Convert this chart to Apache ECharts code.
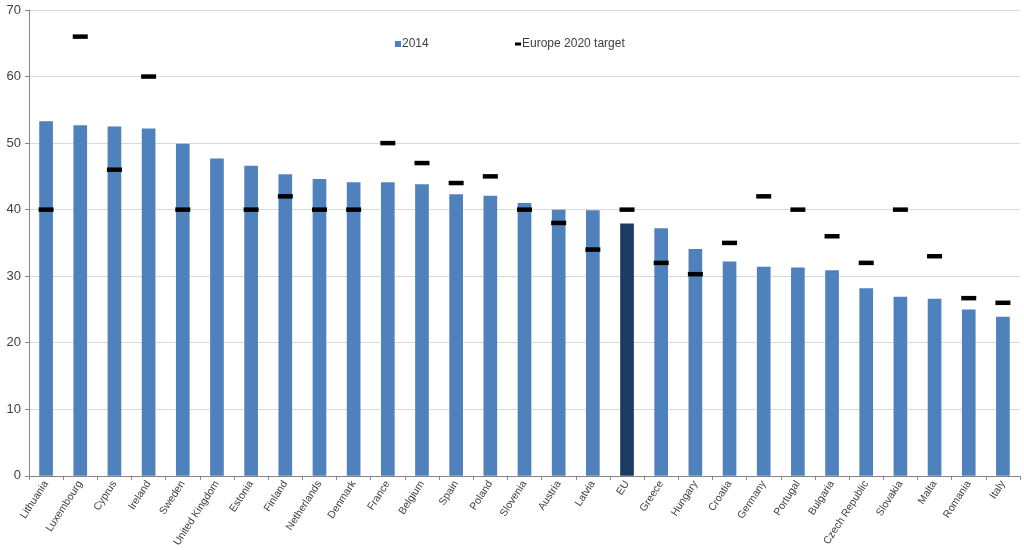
<!DOCTYPE html>
<html>
<head>
<meta charset="utf-8">
<script src="https://cdn.jsdelivr.net/npm/echarts@6/dist/echarts.min.js"></script>
<style>
  html, body { margin: 0; padding: 0; background: #fff; }
  .chart { width: 1024px; height: 550px; }
</style>
</head>
<body>
<div class="chart"></div>
<script>
// 国家
var countries = ["Lithuania", "Luxembourg", "Cyprus", "Ireland", "Sweden", "United Kingdom",
  "Estonia", "Finland", "Netherlands", "Denmark", "France", "Belgium", "Spain", "Poland",
  "Slovenia", "Austria", "Latvia", "EU", "Greece", "Hungary", "Croatia", "Germany",
  "Portugal", "Bulgaria", "Czech Republic", "Slovakia", "Malta", "Romania", "Italy"];
// 2014 数值
var values2014 = [53.3, 52.7, 52.5, 52.2, 49.9, 47.7, 46.6, 45.3, 44.6, 44.1, 44.1, 43.8,
  42.3, 42.1, 41.0, 40.0, 39.9, 37.9, 37.2, 34.1, 32.2, 31.4, 31.3, 30.9, 28.2, 26.9,
  26.6, 25.0, 23.9];
// Europe 2020 目标 (英国没有)
var targets = [40, 66, 46, 60, 40, null, 40, 42, 40, 40, 50, 47, 44, 45, 40, 38, 34, 40,
  32, 30.3, 35, 42, 40, 36, 32, 40, 33, 26.7, 26];
var yTicks = [0, 10, 20, 30, 40, 50, 60, 70];

(function () {
  var myChart = echarts.init(document.querySelector(".chart"));
  // EU 柱子用深色
  var barData = values2014.map(function (v, i) {
    if (countries[i] === "EU") {
      return { value: v, itemStyle: { color: "#1c3a64" } };
    }
    return v;
  });
  var option = {
    animation: false,
    textStyle: { fontFamily: "Liberation Sans, Arial, sans-serif" },
    legend: [{
      data: [{ name: "2014", icon: "rect" }],
      left: 390,
      top: 33,
      itemWidth: 6,
      itemHeight: 6,
      textStyle: { color: "#404040", fontSize: 12, padding: [0, 0, 0, -4] }
    }, {
      data: [{ name: "Europe 2020 target", icon: "rect" }],
      left: 510,
      top: 33,
      itemWidth: 6,
      itemHeight: 3,
      textStyle: { color: "#404040", fontSize: 12, padding: [0, 0, 0, -4] }
    }],
    grid: {
      left: 29,
      right: 4,
      top: 10,
      bottom: 74,
      containLabel: false
    },
    xAxis: {
      type: "category",
      data: countries,
      boundaryGap: true,
      axisLine: { lineStyle: { color: "#868686" } },
      axisTick: { show: true, length: 4, lineStyle: { color: "#868686" } },
      axisLabel: {
        interval: 0,
        rotate: 57,
        fontSize: 10.5,
        color: "#404040",
        margin: 6
      }
    },
    yAxis: {
      type: "value",
      min: yTicks[0],
      max: yTicks[yTicks.length - 1],
      interval: 10,
      axisLine: { show: true, lineStyle: { color: "#868686" } },
      axisTick: { show: true, length: 4, lineStyle: { color: "#868686" } },
      axisLabel: { fontSize: 13, color: "#404040", margin: 8 },
      splitLine: { lineStyle: { color: "#d9d9d9" } }
    },
    series: [
      {
        name: "2014",
        type: "bar",
        barWidth: "40%",
        itemStyle: { color: "#4f81bd" },
        data: barData
      },
      {
        name: "Europe 2020 target",
        type: "scatter",
        symbol: "rect",
        symbolSize: [15, 4.5],
        itemStyle: { color: "#000", opacity: 1 },
        z: 5,
        data: targets
      }
    ]
  };
  myChart.setOption(option);
  window.addEventListener("resize", function () {
    myChart.resize();
  });
})();
</script>
</body>
</html>
